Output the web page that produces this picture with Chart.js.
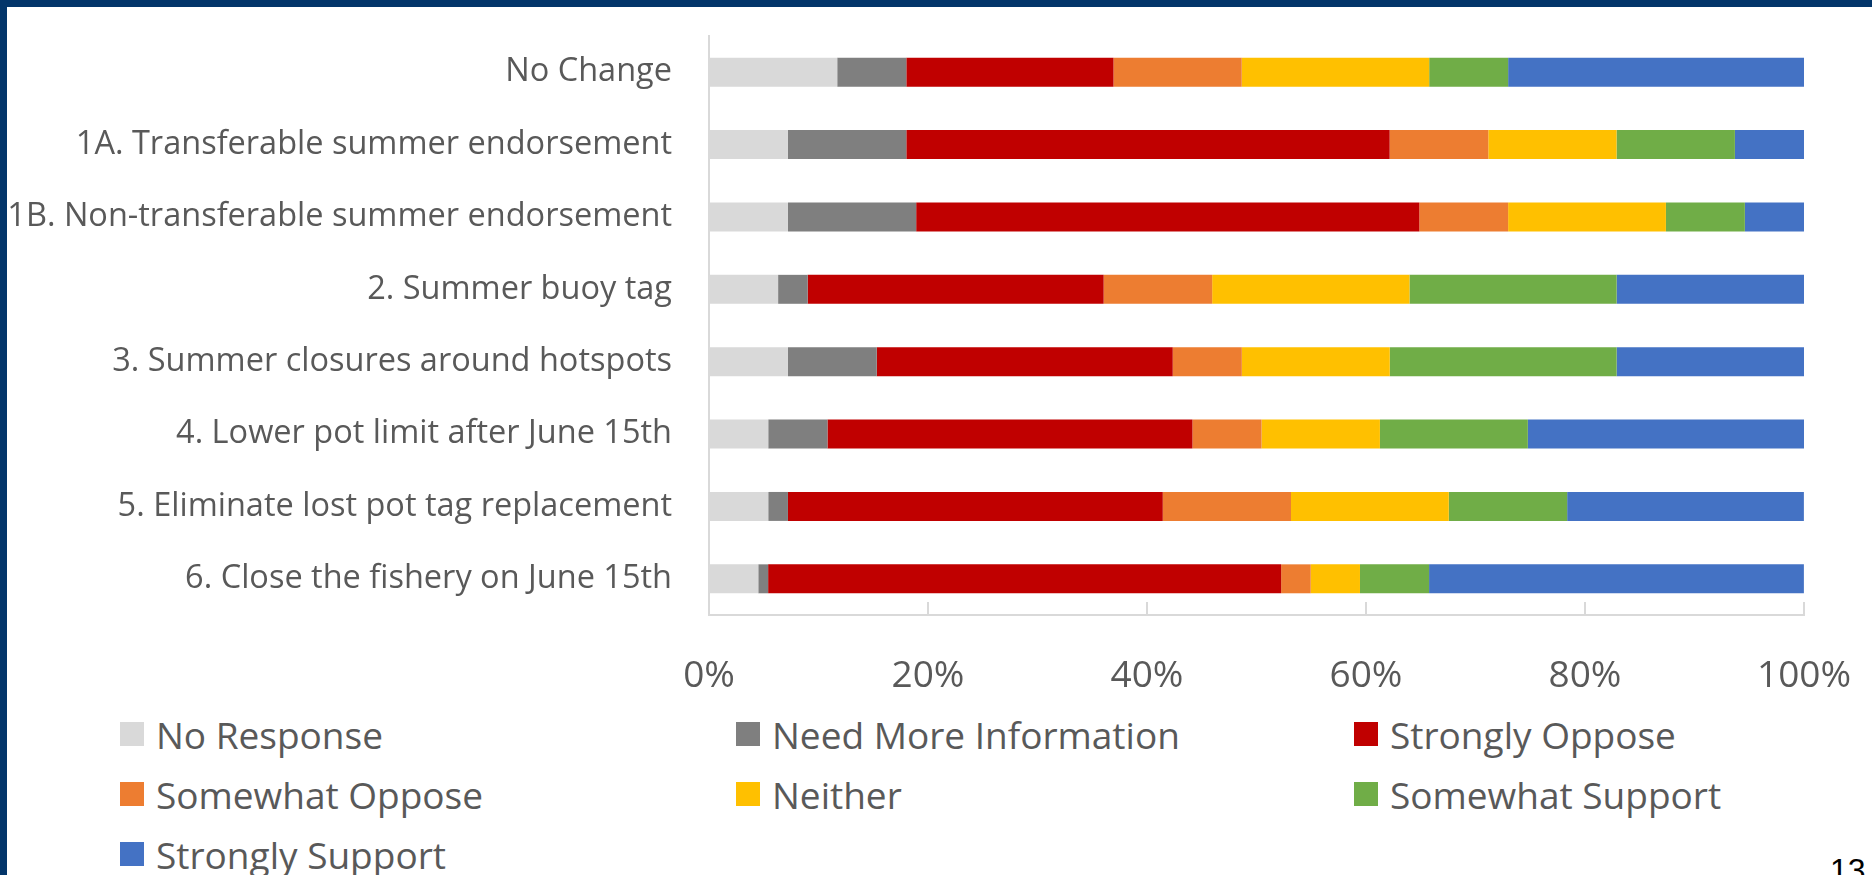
<!DOCTYPE html>
<html>
<head>
<meta charset="utf-8">
<script src="https://cdn.jsdelivr.net/npm/chart.js@4"></script>
<style>
  html, body { margin: 0; padding: 0; }
  body { width: 1872px; height: 875px; overflow: hidden; background: #fff; position: relative; font-family: "Open Sans", sans-serif; }
  #wrap { position: absolute; left: 0; top: 0; width: 1872px; height: 700px; }
  .frameTop { position: absolute; left: 0; top: 0; width: 1872px; height: 7px; background: #03356a; }
  .frameLeft { position: absolute; left: 0; top: 0; width: 7px; height: 875px; background: #03356a; }
  #legend { position: absolute; left: 0; top: 704px; width: 1872px; }
  .item { position: absolute; height: 60px; display: flex; align-items: center; color: #595959; font-size: 37px; white-space: nowrap; }
  .item span.box { width: 24px; height: 24px; margin-right: 12px; display: inline-block; }
  #page { position: absolute; left: 1830px; top: 854px; line-height: 1; font-family: "Liberation Sans", Arial, sans-serif; font-size: 32px; color: #000; }
</style>
</head>
<body>
<div id="wrap"><canvas id="myChart"></canvas></div>
<div id="legend"></div>
<div class="frameTop"></div>
<div class="frameLeft"></div>
<div id="page">13</div>
<script>
// categories (top to bottom)
const categories = [
  'No Change',
  '1A. Transferable summer endorsement',
  '1B. Non-transferable summer endorsement',
  '2. Summer buoy tag',
  '3. Summer closures around hotspots',
  '4. Lower pot limit after June 15th',
  '5. Eliminate lost pot tag replacement',
  '6. Close the fishery on June 15th'
];

// share of responses, percent
const noResponse      = [11.71, 7.21, 7.21, 6.31, 7.21, 5.41, 5.41, 4.50];
const needMoreInfo    = [6.31, 10.81, 11.71, 2.70, 8.11, 5.41, 1.80, 0.90];
const stronglyOppose  = [18.92, 44.14, 45.95, 27.03, 27.03, 33.33, 34.23, 46.85];
const somewhatOppose  = [11.71, 9.01, 8.11, 9.91, 6.31, 6.31, 11.71, 2.70];
const neither         = [17.12, 11.71, 14.41, 18.02, 13.51, 10.81, 14.41, 4.50];
const somewhatSupport = [7.21, 10.81, 7.21, 18.92, 20.72, 13.51, 10.81, 6.31];
const stronglySupport = [27.03, 6.31, 5.41, 17.12, 17.12, 25.23, 21.62, 34.23];

const seriesNames = ['No Response', 'Need More Information', 'Strongly Oppose',
  'Somewhat Oppose', 'Neither', 'Somewhat Support', 'Strongly Support'];
const seriesValues = [noResponse, needMoreInfo, stronglyOppose, somewhatOppose,
  neither, somewhatSupport, stronglySupport];
const seriesColors = ['#d9d9d9', '#7f7f7f', '#c00000', '#ed7d31', '#ffc000', '#70ad47', '#4472c4'];

const xTicks = [0, 20, 40, 60, 80, 100];

const datasets = seriesNames.map((name, i) => ({
  label: name,
  data: seriesValues[i],
  backgroundColor: seriesColors[i],
  borderWidth: 0,
  categoryPercentage: 1,
  barPercentage: 0.4
}));

// small tick marks pointing up from the bottom axis
const innerTicks = {
  id: 'innerTicks',
  afterDraw(chart) {
    const x = chart.scales.x;
    const ctx = chart.ctx;
    const bottom = chart.chartArea.bottom;
    ctx.save();
    ctx.strokeStyle = '#d9d9d9';
    ctx.lineWidth = 2;
    xTicks.forEach(v => {
      const px = Math.round(x.getPixelForValue(v));
      ctx.beginPath();
      ctx.moveTo(px, bottom);
      ctx.lineTo(px, bottom - 13);
      ctx.stroke();
    });
    ctx.restore();
  }
};

const config = {
  type: 'bar',
  data: { labels: categories, datasets },
  options: {
    indexAxis: 'y',
    responsive: true,
    maintainAspectRatio: false,
    animation: false,
    layout: { padding: { left: 0, right: 68, top: 36, bottom: 0 } },
    plugins: {
      legend: { display: false },
      tooltip: { enabled: false }
    },
    scales: {
      x: {
        stacked: true,
        min: 0,
        max: 100,
        afterBuildTicks: (scale) => { scale.ticks = xTicks.map(v => ({ value: v })); },
        afterFit: (scale) => {
          scale.height = 85;
          scale.paddingLeft = 0;
          scale.paddingRight = 0;
        },
        grid: { drawOnChartArea: false, drawTicks: false },
        border: { display: true, color: '#d9d9d9', width: 2 },
        ticks: {
          padding: 39,
          maxRotation: 0,
          color: '#595959',
          font: { family: 'Open Sans', size: 37 },
          callback: (v) => v + '%'
        }
      },
      y: {
        stacked: true,
        afterFit: (scale) => {
          scale.width = 709;
          scale.paddingTop = 0;
          scale.paddingBottom = 0;
        },
        grid: { drawOnChartArea: false, drawTicks: false },
        border: { display: true, color: '#d9d9d9', width: 2 },
        ticks: {
          padding: 37,
          color: '#595959',
          font: { family: 'Open Sans', size: 32.5 }
        }
      }
    }
  },
  plugins: [innerTicks]
};

const myChart = new Chart(document.getElementById('myChart'), config);

// legend in three columns
const legend = document.getElementById('legend');
const colLeft = [120, 736, 1354];
seriesNames.forEach((name, i) => {
  const item = document.createElement('div');
  item.className = 'item';
  item.style.left = colLeft[i % 3] + 'px';
  item.style.top = (Math.floor(i / 3) * 60) + 'px';
  item.innerHTML = '<span class="box" style="background:' + seriesColors[i] + '"></span>' + name;
  legend.appendChild(item);
});
</script>
</body>
</html>
